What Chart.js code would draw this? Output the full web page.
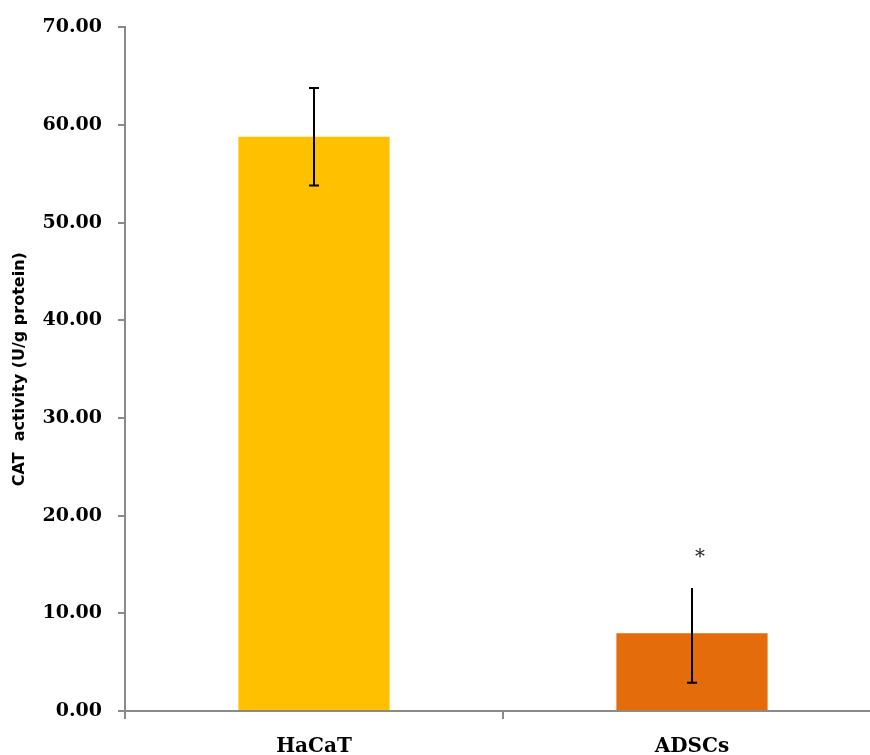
<!DOCTYPE html>
<html>
<head>
<meta charset="utf-8">
<script src="https://cdn.jsdelivr.net/npm/chart.js@4.4.1/dist/chart.umd.min.js"></script>
<style>
  html, body { margin: 0; padding: 0; background: #fff; overflow: hidden; }
  #wrap { width: 885px; height: 755px; }
</style>
</head>
<body>
<div id="wrap"><canvas id="chart" width="885" height="755"></canvas></div>
<script>
// CAT activity per cell type, mean with error range
const categories = ['HaCaT', 'ADSCs'];
const catActivity = [58.8, 7.97];
const errorHigh = [63.8, 12.6];
const errorLow = [53.8, 2.9];
const showUpperCap = [true, false];
const significance = ['', '*'];
const yTicks = [0, 10, 20, 30, 40, 50, 60, 70];
const barColors = ['#FFC000', '#E46C0A'];

const axisColor = '#8a8a8a';
const serifBold = { family: 'DejaVu Serif', weight: 'bold', size: 19 };

// draws error whiskers and significance marks from the data arrays
const errorBarPlugin = {
  id: 'errorBars',
  afterDatasetsDraw(chart) {
    const { ctx, scales: { y } } = chart;
    const meta = chart.getDatasetMeta(0);
    ctx.save();
    ctx.strokeStyle = '#000';
    ctx.lineWidth = 2;
    meta.data.forEach((bar, i) => {
      const cx = Math.round(bar.x);
      const yHi = y.getPixelForValue(errorHigh[i]);
      const yLo = y.getPixelForValue(errorLow[i]);
      const cap = 5;
      ctx.beginPath();
      ctx.moveTo(cx, yHi);
      ctx.lineTo(cx, yLo);
      ctx.moveTo(cx - cap, yLo);
      ctx.lineTo(cx + cap, yLo);
      if (showUpperCap[i]) {
        ctx.moveTo(cx - cap, yHi);
        ctx.lineTo(cx + cap, yHi);
      }
      ctx.stroke();
      if (significance[i]) {
        ctx.fillStyle = '#222';
        ctx.font = '20px "DejaVu Serif"';
        ctx.textAlign = 'center';
        ctx.textBaseline = 'middle';
        ctx.fillText(significance[i], cx + 8, yHi - 30);
      }
    });
    ctx.restore();
  }
};

new Chart(document.getElementById('chart'), {
  type: 'bar',
  data: {
    labels: categories,
    datasets: [{
      data: catActivity,
      backgroundColor: barColors,
      borderWidth: 0,
      barPercentage: 0.4,
      categoryPercentage: 1.0
    }]
  },
  options: {
    responsive: false,
    animation: false,
    events: [],
    layout: { padding: { top: 26, right: 4, left: 0, bottom: 0 } },
    plugins: {
      legend: { display: false },
      tooltip: { enabled: false }
    },
    scales: {
      x: {
        grid: {
          offset: true,
          drawOnChartArea: false,
          drawTicks: true,
          tickLength: 8,
          color: axisColor,
          lineWidth: 2
        },
        border: { color: axisColor, width: 2 },
        ticks: { color: '#000', font: { ...serifBold, size: 20 }, padding: 16 },
        afterFit(scale) { scale.height = 44; }
      },
      y: {
        min: 0,
        max: 70,
        afterBuildTicks(scale) { scale.ticks = yTicks.map(v => ({ value: v })); },
        grid: {
          drawOnChartArea: false,
          drawTicks: true,
          tickLength: 7,
          color: axisColor,
          lineWidth: 2
        },
        border: { color: axisColor, width: 2 },
        ticks: {
          color: '#000',
          font: serifBold,
          padding: 16,
          callback: v => Number(v).toFixed(2)
        },
        title: {
          display: true,
          text: 'CAT  activity (U/g protein)',
          color: '#000',
          font: { family: 'DejaVu Sans', weight: 'bold', size: 16 },
          padding: { top: 10.5, bottom: 0 }
        },
        afterFit(scale) { scale.width = 125; }
      }
    }
  },
  plugins: [errorBarPlugin]
});
</script>
</body>
</html>
